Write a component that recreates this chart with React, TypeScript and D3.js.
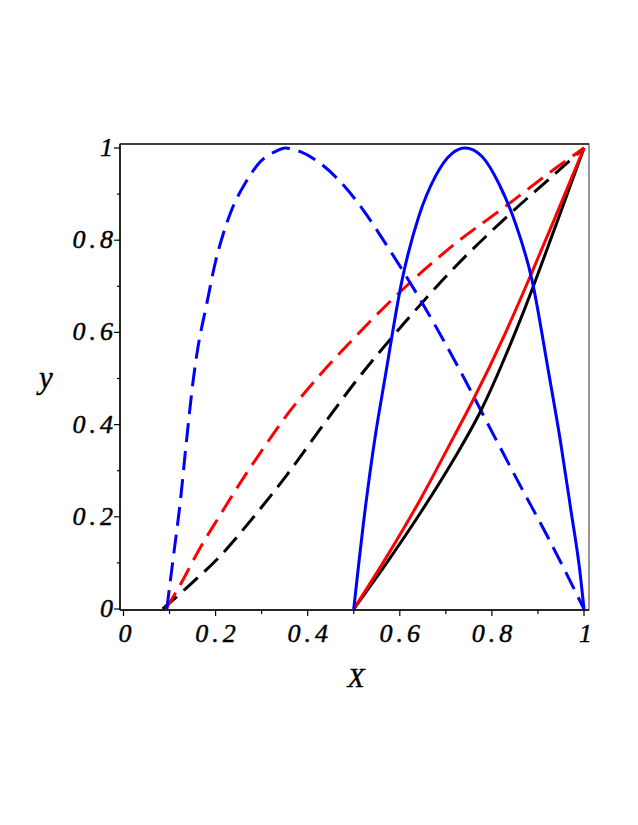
import React from "react";
import * as d3 from "d3";

// ---- data ----
const blueDashedX = [0.094, 0.108, 0.123, 0.137, 0.152, 0.16, 0.181, 0.199, 0.217, 0.235, 0.264, 0.297, 0.333, 0.351, 0.384, 0.427, 0.463, 0.503, 0.576, 0.648, 0.724, 0.805, 0.863, 0.922, 1.0];
const blueDashedY = [0, 0.111, 0.23, 0.367, 0.501, 0.557, 0.663, 0.75, 0.815, 0.866, 0.923, 0.97, 0.994, 1.0, 0.992, 0.967, 0.935, 0.889, 0.782, 0.665, 0.53, 0.375, 0.265, 0.155, 0];

const blueSolidX = [0.5, 0.525, 0.547, 0.568, 0.605, 0.641, 0.677, 0.713, 0.742, 0.779, 0.815, 0.851, 0.887, 0.923, 0.949, 0.971, 0.992, 1.0];
const blueSolidY = [0, 0.218, 0.377, 0.502, 0.714, 0.851, 0.938, 0.988, 1.0, 0.981, 0.923, 0.837, 0.714, 0.514, 0.363, 0.218, 0.074, 0];

const redDashedX = [0.092, 0.119, 0.166, 0.21, 0.246, 0.304, 0.355, 0.427, 0.5, 0.605, 0.721, 0.829, 0.938, 1.0];
const redDashedY = [0, 0.045, 0.132, 0.204, 0.262, 0.349, 0.421, 0.508, 0.587, 0.692, 0.793, 0.873, 0.956, 1.0];

const blackDashedX = [0.085, 0.137, 0.21, 0.282, 0.355, 0.427, 0.5, 0.612, 0.721, 0.837, 0.938, 1.0];
const blackDashedY = [0, 0.046, 0.115, 0.199, 0.291, 0.39, 0.488, 0.623, 0.743, 0.855, 0.945, 1.0];

const redSolidX = [0.5, 0.575, 0.647, 0.718, 0.757, 0.829, 0.88, 0.938, 1.0];
const redSolidY = [0, 0.119, 0.242, 0.375, 0.449, 0.598, 0.714, 0.851, 1.0];

const blackSolidX = [0.5, 0.575, 0.647, 0.718, 0.773, 0.866, 0.938, 1.0];
const blackSolidY = [0, 0.105, 0.212, 0.326, 0.424, 0.638, 0.83, 1.0];

const tickValues = [0, 0.1, 0.2, 0.3, 0.4, 0.5, 0.6, 0.7, 0.8, 0.9, 1];
const tickLabels = ["0", "0.2", "0.4", "0.6", "0.8", "1"];
const labelValues = [0, 0.2, 0.4, 0.6, 0.8, 1];

const xTitle = "X";
const yTitle = "y";

type Series = { xs: number[]; ys: number[]; color: string; dashed: boolean };
const series: Series[] = [
  { xs: blackDashedX, ys: blackDashedY, color: "#000000", dashed: true },
  { xs: redDashedX, ys: redDashedY, color: "#ff0000", dashed: true },
  { xs: blueDashedX, ys: blueDashedY, color: "#0000ff", dashed: true },
  { xs: blackSolidX, ys: blackSolidY, color: "#000000", dashed: false },
  { xs: redSolidX, ys: redSolidY, color: "#ff0000", dashed: false },
  { xs: blueSolidX, ys: blueSolidY, color: "#0000ff", dashed: false },
];

export default function App() {
  const W = 638, H = 825;
  const x = d3.scaleLinear().domain([0, 1]).range([123.5, 584]);
  const y = d3.scaleLinear().domain([0, 1]).range([609, 148]);
  const frame = { l: 120, t: 144, r: 589, b: 610 };

  const line = d3
    .line<[number, number]>()
    .x((d) => x(d[0]))
    .y((d) => y(d[1]))
    .curve(d3.curveMonotoneX);

  const labelStyle: React.CSSProperties = {
    fontFamily: "'Liberation Serif', serif",
    fontStyle: "italic",
    fontSize: "26px",
    letterSpacing: "4px",
  };
  const plainStyle: React.CSSProperties = { ...labelStyle, letterSpacing: "0px" };

  return (
    <svg width={W} height={H} style={{ position: "absolute", left: 0, top: 0, background: "#fff" }}>
      <rect x={0} y={0} width={W} height={H} fill="#fff" />
      <rect x={frame.l} y={frame.t} width={frame.r - frame.l} height={frame.b - frame.t} fill="none" stroke="#555" strokeWidth={1.2} />
      <line x1={frame.l} x2={frame.r} y1={frame.t} y2={frame.t} stroke="#222" strokeWidth={1.4} />
      {series.map((s, i) => (
        <path
          key={i}
          d={line(s.xs.map((v, j) => [v, s.ys[j]] as [number, number])) || ""}
          fill="none"
          stroke={s.color}
          strokeWidth={3}
          strokeDasharray={s.dashed ? "19 9" : undefined}
          strokeLinejoin="round"
        />
      ))}
      {/* axes */}
      <line x1={frame.l} x2={frame.l} y1={frame.t} y2={frame.b} stroke="#000" strokeWidth={1.5} />
      <line x1={frame.l} x2={frame.r} y1={frame.b} y2={frame.b} stroke="#000" strokeWidth={1.5} />
      {tickValues.map((v, i) => {
        const major = i % 2 === 0;
        return (
          <g key={"t" + i}>
            <line x1={x(v)} x2={x(v)} y1={frame.b} y2={frame.b + (major ? 6 : 4)} stroke="#000" strokeWidth={1.2} />
            <line x1={frame.l} x2={frame.l - (major ? 6 : 3)} y1={y(v)} y2={y(v)} stroke="#000" strokeWidth={1.2} />
          </g>
        );
      })}
      {labelValues.map((v, i) => {
        const multi = tickLabels[i].length > 1;
        return (
          <g key={"l" + i} fill="#000" stroke="#000" strokeWidth={0.45}>
            <text x={x(v) + (multi ? 2 : 1.5)} y={642} textAnchor="middle" style={multi ? labelStyle : plainStyle}>
              {tickLabels[i]}
            </text>
            <text x={multi ? 117 : 113} y={y(v) + 8} textAnchor="end" style={multi ? labelStyle : plainStyle}>
              {tickLabels[i]}
            </text>
          </g>
        );
      })}
      <text x={356} y={687} textAnchor="middle" stroke="#000" strokeWidth={0.4} style={{ ...plainStyle, fontSize: "28px" }}>
        {xTitle}
      </text>
      <text x={46} y={388} textAnchor="middle" stroke="#000" strokeWidth={0.4} style={{ ...plainStyle, fontSize: "31px" }}>
        {yTitle}
      </text>
    </svg>
  );
}
